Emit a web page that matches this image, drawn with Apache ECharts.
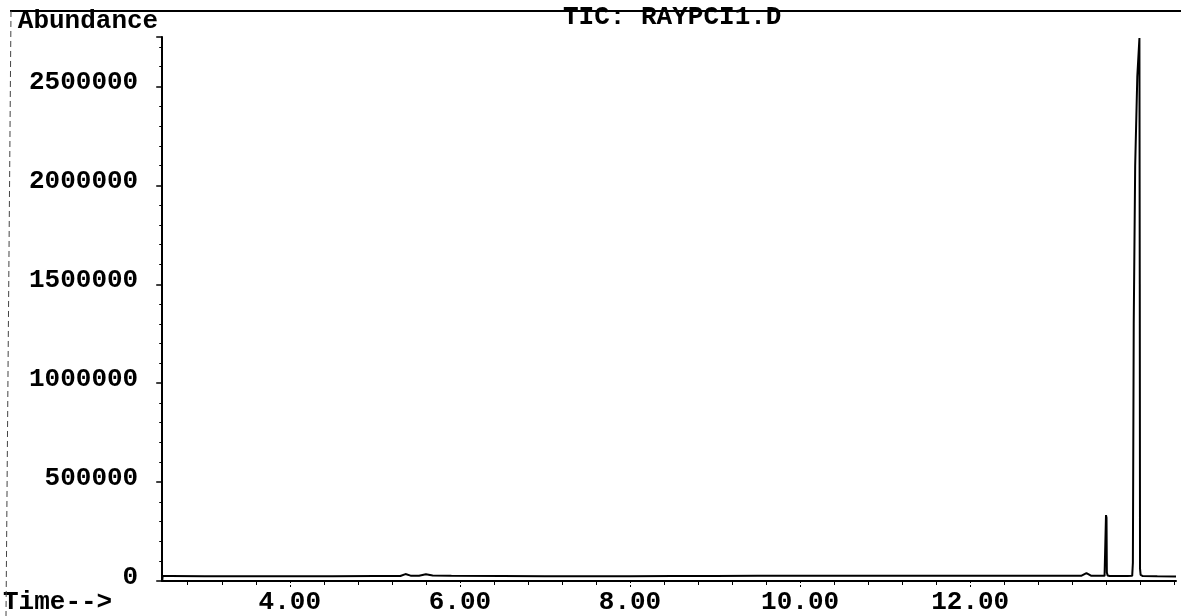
<!DOCTYPE html>
<html>
<head>
<meta charset="utf-8">
<script src="https://cdn.jsdelivr.net/npm/echarts@6/dist/echarts.min.js"></script>
<style>
html,body{margin:0;padding:0;background:#fff;}
#chart{width:1181px;height:616px;}
</style>
</head>
<body>
<div id="chart"></div>
<script>
// ---- data ----
const times = [2.500, 2.505, 2.60, 3.00, 3.50, 4.00, 4.50, 5.00, 5.30, 5.36, 5.42, 5.52, 5.60, 5.68, 5.90,
  6.50, 7.00, 7.50, 8.00, 8.50, 9.00, 9.50, 10.00, 10.50, 11.00, 11.50, 12.00, 12.50, 13.00, 13.31, 13.367, 13.42,
  13.580, 13.592, 13.597, 13.603, 13.607, 13.616, 13.640, 13.750, 13.850, 13.905, 13.913, 13.919, 13.923,
  13.940, 13.965, 13.990, 13.994, 13.997, 14.004, 14.030, 14.200, 14.420];
const abundance = [0, 25000, 25000, 24000, 24000, 24000, 24000, 25000, 25000, 35000, 27000, 27000, 34000, 28000, 26000,
  25000, 24000, 24000, 24000, 25000, 25000, 26000, 26000, 26000, 26000, 26000, 26000, 26000, 27000, 27000, 40000, 27000,
  26000, 33000, 333000, 320000, 43000, 28000, 25000, 25000, 25000, 26000, 92000, 97000, 1300000,
  2100000, 2550000, 2745000, 1500000, 63000, 31000, 25000, 24000, 23000];
const xMajorTicks = [4, 6, 8, 10, 12];
const xMinorTicks = [2.8, 3.2, 3.6, 4.4, 4.8, 5.2, 5.6, 6.4, 6.8, 7.2, 7.6, 8.4, 8.8, 9.2, 9.6,
  10.4, 10.8, 11.2, 11.6, 12.4, 12.8, 13.2, 13.6, 14.0, 14.4];
const xMin = 2.5, xMax = 14.42;
const yMax = 2750000, yInterval = 500000;
const titleText = 'TIC: RAYPCI1.D';
const yName = 'Abundance';
const xName = 'Time-->';

const seriesData = times.map((t, i) => [t, abundance[i]]);
const FONT = 'Liberation Mono';

const chart = echarts.init(document.getElementById('chart'), null, {renderer: 'canvas'});
chart.setOption({
  animation: false,
  backgroundColor: '#ffffff',
  title: {
    text: titleText,
    left: 558,
    top: -1,
    textStyle: {fontFamily: FONT, fontSize: 26, fontWeight: 'bold', color: '#000'}
  },
  grid: {left: 157, right: 5, top: 37, bottom: 35},
  xAxis: [{
    type: 'value',
    min: xMin, max: xMax,
    position: 'bottom',
    name: xName,
    nameLocation: 'start',
    nameGap: 50,
    nameTextStyle: {fontFamily: FONT, fontSize: 26, fontWeight: 'bold', color: '#000', verticalAlign: 'top', padding: [8, 0, 0, 0]},
    axisLine: {show: true, onZero: false, lineStyle: {color: '#000', width: 2}},
    axisTick: {show: true, customValues: xMajorTicks, length: 8, lineStyle: {color: '#000', width: 1, type: [2, 2]}},
    axisLabel: {customValues: xMajorTicks, margin: 8, fontFamily: FONT, fontSize: 26, fontWeight: 'bold', color: '#000',
      formatter: v => v.toFixed(2)},
    splitLine: {show: false}
  }, {
    type: 'value',
    min: xMin, max: xMax,
    position: 'bottom',
    axisLine: {show: false},
    axisTick: {show: true, customValues: xMinorTicks, length: 4, lineStyle: {color: '#000', width: 1}},
    axisLabel: {show: false},
    splitLine: {show: false}
  }],
  yAxis: {
    type: 'value',
    min: 0, max: yMax, interval: yInterval,
    name: yName,
    nameLocation: 'end',
    nameGap: 3,
    nameTextStyle: {fontFamily: FONT, fontSize: 26, fontWeight: 'bold', color: '#000', align: 'right', padding: [0, 4, 0, 0]},
    axisLine: {show: true, lineStyle: {color: '#000', width: 2}},
    axisTick: {show: true, length: 6, lineStyle: {color: '#000', width: 1.5}},
    minorTick: {show: true, splitNumber: 5, length: 3, lineStyle: {color: '#000', width: 1}},
    axisLabel: {showMaxLabel: false, margin: 24, fontFamily: FONT, fontSize: 26, fontWeight: 'bold', color: '#000',
      verticalAlign: 'bottom', lineHeight: 8, formatter: v => String(v)},
    splitLine: {show: false},
    minorSplitLine: {show: false}
  },
  series: [{
    type: 'line',
    xAxisIndex: 0,
    data: seriesData,
    showSymbol: false,
    symbol: 'none',
    lineStyle: {color: '#000', width: 2},
    sampling: null
  }],
  graphic: [
    {type: 'line', shape: {x1: 10, y1: 11, x2: 1181, y2: 11}, style: {stroke: '#000', lineWidth: 2}, z: 100},
    {type: 'line', shape: {x1: 11, y1: 11, x2: 6, y2: 616}, style: {stroke: '#444', lineWidth: 1, lineDash: [6, 4]}, z: 100}
  ]
});
</script>
</body>
</html>
